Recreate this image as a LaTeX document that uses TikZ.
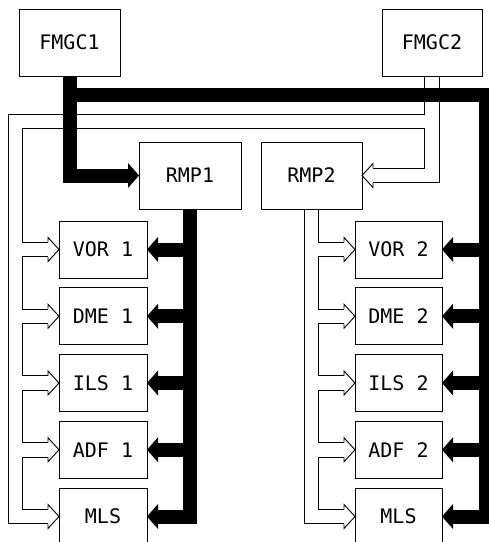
\documentclass[tikz,border=0pt]{standalone}
\usepackage{fontspec}
\newfontfamily\boxfont{DejaVu Sans Mono}
\usepackage{tikz}
\usetikzlibrary{positioning,backgrounds}

\begin{document}
\begin{tikzpicture}[x=1pt, y=-1pt,
  node distance=9.75pt,
  unit/.style={draw, line width=0.9pt, fill=white, minimum width=88pt,
              minimum height=57pt, inner sep=0pt, outer sep=0pt,
              font=\boxfont\fontsize{20}{24}\selectfont},
  bigunit/.style={unit, minimum height=67pt},
  bus/.style={line width=14pt},
  pipeout/.style={line width=15.5pt},
  pipein/.style={line width=13.5pt, white},
  hollowtip/.style={line width=0.9pt, fill=white}
]
\useasboundingbox (0,0) rectangle (489,542);

\node[bigunit, minimum width=101pt] (fmgc1) at (69.5,42.5) {FMGC1};
\node[bigunit, minimum width=100pt] (fmgc2) at (432,42.5) {FMGC2};
\node[bigunit, minimum width=102pt] (rmp1) at (190,175.5) {RMP1};
\node[bigunit, minimum width=101pt] (rmp2) at (311.5,175.5) {RMP2};

\node[unit] (vor1) at (103,249.5) {VOR 1};
\node[unit, below=of vor1] (dme1) {DME 1};
\node[unit, below=of dme1] (ils1) {ILS 1};
\node[unit, below=of ils1] (adf1) {ADF 1};
\node[unit, below=of adf1] (mls1) {MLS};

\node[unit, minimum width=87pt] (vor2) at (398.5,249.5) {VOR 2};
\node[unit, minimum width=87pt, below=of vor2] (dme2) {DME 2};
\node[unit, minimum width=87pt, below=of dme2] (ils2) {ILS 2};
\node[unit, minimum width=87pt, below=of ils2] (adf2) {ADF 2};
\node[unit, minimum width=87pt, below=of adf2] (mls2) {MLS};

\coordinate (pipeR) at (fmgc2.south |- 0,121.5);
\coordinate (pipeL) at (15.5,121.5);
\coordinate (busT) at (fmgc1.south |- 0,95);
\coordinate (busR) at (486,95);

\begin{scope}[on background layer]
% hollow buses: outline first, then the white core
\foreach \s in {pipeout,pipein} {
  \draw[\s] (fmgc2.south) -- (pipeR) -- (pipeL) |- ([xshift=-11pt]mls1.west);
  \draw[\s] (pipeR) |- ([xshift=11pt]rmp2.east);
  \draw[\s] (rmp2.south) |- ([xshift=-11pt]mls2.west);
  \foreach \n in {vor1,dme1,ils1,adf1}
    \draw[\s] (pipeL |- \n.west) -- ([xshift=-11pt]\n.west);
  \foreach \n in {vor2,dme2,ils2,adf2}
    \draw[\s] (rmp2.south |- \n.west) -- ([xshift=-11pt]\n.west);
}
% solid buses
\draw[bus] (fmgc1.south) |- ([xshift=-11pt]rmp1.west);
\draw[bus] (busT) -- (busR) |- ([xshift=11pt]mls2.east);
\foreach \n in {vor2,dme2,ils2,adf2}
  \draw[bus] (busR |- \n.east) -- ([xshift=11pt]\n.east);
\draw[bus] (rmp1.south) |- ([xshift=11pt]mls1.east);
\foreach \n in {vor1,dme1,ils1,adf1}
  \draw[bus] (rmp1.south |- \n.east) -- ([xshift=11pt]\n.east);
\end{scope}

% arrow heads
\fill ([shift={(-11,-12.5)}]rmp1.west) -- (rmp1.west) -- ([shift={(-11,12.5)}]rmp1.west) -- cycle;
\foreach \n in {vor1,dme1,ils1,adf1,mls1,vor2,dme2,ils2,adf2,mls2}
  \fill ([shift={(11,-12.5)}]\n.east) -- (\n.east) -- ([shift={(11,12.5)}]\n.east) -- cycle;
\foreach \n in {vor1,dme1,ils1,adf1,mls1,vor2,dme2,ils2,adf2,mls2}
  \draw[hollowtip] ([shift={(-11,-7.25)}]\n.west) -- ++(0,-4.75) -- (\n.west)
    -- ([shift={(-11,12)}]\n.west) -- ++(0,-4.75);
\draw[hollowtip] ([shift={(11,-7.25)}]rmp2.east) -- ++(0,-4.75) -- (rmp2.east)
  -- ([shift={(11,12)}]rmp2.east) -- ++(0,-4.75);
\end{tikzpicture}
\end{document}
